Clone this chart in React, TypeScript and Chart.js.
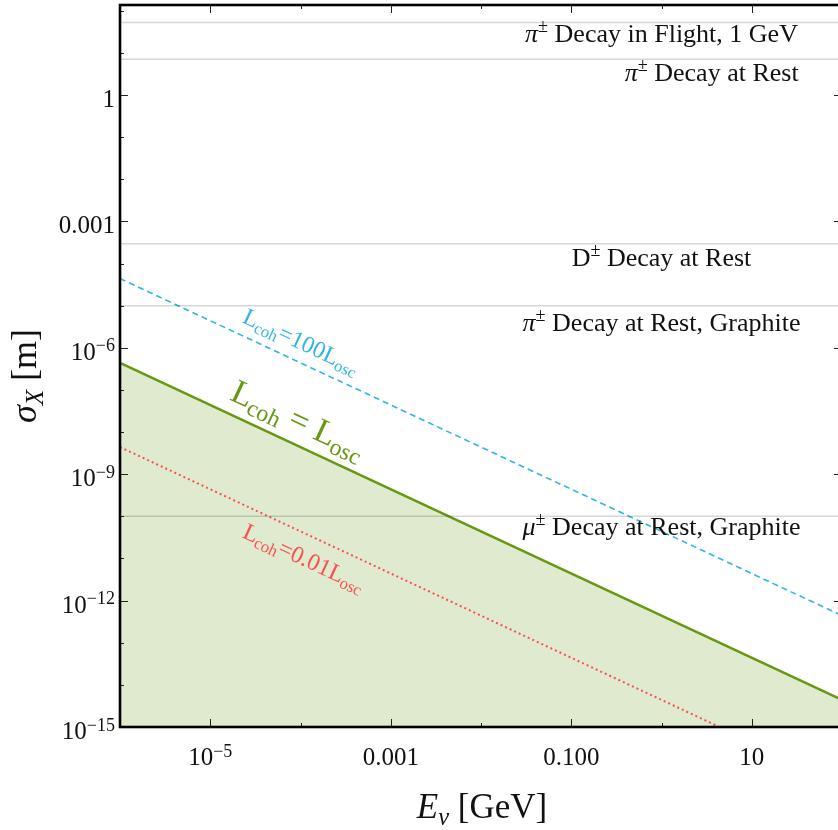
import React, { useEffect, useRef } from 'react';
import { Chart, registerables } from 'chart.js';

Chart.register(...registerables);

const FONT = "'Liberation Serif', 'Times New Roman', serif";

// ---- data ----
const energyEnds = [1e-6, 100]; // GeV, x extent of the lines
const sigmaCohEqualOsc = [4.4e-7, 4.4e-15]; // L_coh = L_osc
const sigmaCoh100Osc = [4.4e-5, 4.4e-13]; // L_coh = 100 L_osc
const sigmaCoh001Osc = [4.4e-9, 4.4e-17]; // L_coh = 0.01 L_osc

const sourceSymbols = ['π', 'π', 'D', 'π', 'μ'];
const sourceSymbolItalic = [true, true, false, true, true];
const sourceTexts = [
  ' Decay in Flight, 1 GeV',
  ' Decay at Rest',
  ' Decay at Rest',
  ' Decay at Rest, Graphite',
  ' Decay at Rest, Graphite',
];
const sourceSigma = [53, 7.1, 2.95e-4, 1.0e-5, 1.0e-10];

const xMajorTicks = [1e-5, 1e-3, 1e-1, 10];
const xMajorLabels = [['10', '−5'], ['0.001'], ['0.100'], ['10']];
const xMinorTicks = [1e-4, 1e-2, 1];
const yMajorTicks = [1, 1e-3, 1e-6, 1e-9, 1e-12, 1e-15];
const yMajorLabels = [['1'], ['0.001'], ['10', '−6'], ['10', '−9'], ['10', '−12'], ['10', '−15']];
const yMinorTicks = [100, 10, 0.1, 0.01, 1e-4, 1e-5, 1e-7, 1e-8, 1e-10, 1e-11, 1e-13, 1e-14];

// ---- layout (label anchors in data coordinates) ----
const sourceLabelE = [1, 3.6, 1, 1, 1];
const sourceLabelSigma = [18.2, 2.15, 8.7e-5, 2.5e-6, 3.56e-11];
const lineLabelE = [1.6e-5, 2.2e-5, 2.2e-5];
const lineLabelSigma = [6.0e-8, 4.1e-6, 3.24e-11];

const GREEN = 'rgb(104,152,18)';
const BLUE = 'rgb(50,180,228)';
const RED = 'rgb(250,80,80)';

type Seg = { t: string; italic?: boolean; scale?: number; dy?: number };

function segFont(s: Seg, size: number) {
  return `${s.italic ? 'italic ' : ''}${size * (s.scale ?? 1)}px ${FONT}`;
}

function measureRich(ctx: CanvasRenderingContext2D, segs: Seg[], size: number) {
  let w = 0;
  for (const s of segs) {
    ctx.font = segFont(s, size);
    w += ctx.measureText(s.t).width;
  }
  return w;
}

function drawRich(
  ctx: CanvasRenderingContext2D,
  segs: Seg[],
  x: number,
  y: number,
  size: number,
  align: 'left' | 'center' | 'right',
  color: string
) {
  const w = measureRich(ctx, segs, size);
  let cx = align === 'left' ? x : align === 'center' ? x - w / 2 : x - w;
  ctx.fillStyle = color;
  ctx.textAlign = 'left';
  ctx.textBaseline = 'alphabetic';
  for (const s of segs) {
    ctx.font = segFont(s, size);
    ctx.fillText(s.t, cx, y + (s.dy ?? 0) * size);
    cx += ctx.measureText(s.t).width;
  }
}

function tickSegs(parts: string[]): Seg[] {
  const segs: Seg[] = [{ t: parts[0] }];
  if (parts[1]) segs.push({ t: parts[1], scale: 0.72, dy: -0.34 });
  return segs;
}

const decorPlugin = {
  id: 'decor',
  afterDraw(chart: any) {
    const { ctx, chartArea, scales } = chart;
    const { left, right, top, bottom } = chartArea;
    const xs = scales.x;
    const ys = scales.y;
    ctx.save();

    // source labels
    sourceTexts.forEach((txt, i) => {
      const px = xs.getPixelForValue(sourceLabelE[i]);
      const py = ys.getPixelForValue(sourceLabelSigma[i]);
      const segs: Seg[] = [
        { t: sourceSymbols[i], italic: sourceSymbolItalic[i] },
        { t: '±', scale: 0.7, dy: -0.38 },
        { t: txt },
      ];
      drawRich(ctx, segs, px, py, 26, 'center', '#111');
    });

    // rotated line labels
    const lines = [
      { vals: sigmaCohEqualOsc, mid: ' = ', size: 34, color: GREEN },
      { vals: sigmaCoh100Osc, mid: '=100', size: 24, color: BLUE },
      { vals: sigmaCoh001Osc, mid: '=0.01', size: 24, color: RED },
    ];
    lines.forEach((l, i) => {
      const x1 = xs.getPixelForValue(energyEnds[0]);
      const y1 = ys.getPixelForValue(l.vals[0]);
      const x2 = xs.getPixelForValue(energyEnds[1]);
      const y2 = ys.getPixelForValue(l.vals[1]);
      const ang = Math.atan2(y2 - y1, x2 - x1);
      const px = xs.getPixelForValue(lineLabelE[i]);
      const py = ys.getPixelForValue(lineLabelSigma[i]);
      ctx.save();
      ctx.translate(px, py);
      ctx.rotate(ang);
      drawRich(
        ctx,
        [
          { t: 'L' },
          { t: 'coh', scale: 0.7, dy: 0.17 },
          { t: l.mid },
          { t: 'L' },
          { t: 'osc', scale: 0.7, dy: 0.17 },
        ],
        0,
        0,
        l.size,
        'left',
        l.color
      );
      ctx.restore();
    });

    // ticks (inward, all four sides)
    ctx.strokeStyle = '#222';
    ctx.lineWidth = 1;
    const tick = (x1: number, y1: number, x2: number, y2: number) => {
      ctx.beginPath();
      ctx.moveTo(x1, y1);
      ctx.lineTo(x2, y2);
      ctx.stroke();
    };
    const xTick = (v: number, len: number) => {
      const p = Math.round(xs.getPixelForValue(v)) + 0.5;
      tick(p, bottom, p, bottom - len);
      tick(p, top, p, top + len);
    };
    const yTick = (v: number, len: number) => {
      const p = Math.round(ys.getPixelForValue(v)) + 0.5;
      tick(left, p, left + len, p);
      tick(right, p, right - len, p);
    };
    xMajorTicks.forEach((v) => xTick(v, 8));
    xMinorTicks.forEach((v) => xTick(v, 4));
    yMajorTicks.forEach((v) => yTick(v, 8));
    yMinorTicks.forEach((v) => yTick(v, 4));

    // spines
    ctx.strokeStyle = '#000';
    ctx.lineWidth = 2.6;
    ctx.strokeRect(left, top, right - left, bottom - top);

    // tick labels
    xMajorTicks.forEach((v, i) => {
      const p = xs.getPixelForValue(v);
      drawRich(ctx, tickSegs(xMajorLabels[i]), p, 765, 25, 'center', '#111');
    });
    yMajorTicks.forEach((v, i) => {
      const p = ys.getPixelForValue(v);
      drawRich(ctx, tickSegs(yMajorLabels[i]), left - 5, p + 12, 25, 'right', '#111');
    });

    // axis titles
    drawRich(
      ctx,
      [
        { t: 'E', italic: true },
        { t: 'ν', italic: true, scale: 0.7, dy: 0.2 },
        { t: ' [GeV]' },
      ],
      (left + right) / 2 + 1,
      818,
      35,
      'center',
      '#111'
    );
    ctx.save();
    ctx.translate(36, 376);
    ctx.rotate(-Math.PI / 2);
    drawRich(
      ctx,
      [
        { t: 'σ', italic: true },
        { t: 'X', italic: true, scale: 0.7, dy: 0.2 },
        { t: ' [m]' },
      ],
      0,
      0,
      36,
      'center',
      '#111'
    );
    ctx.restore();

    ctx.restore();
  },
};

export default function App() {
  const ref = useRef<HTMLCanvasElement | null>(null);

  useEffect(() => {
    if (!ref.current) return;
    const pts = (vals: number[]) => energyEnds.map((e, i) => ({ x: e, y: vals[i] }));
    const datasets: any[] = [
      ...sourceSigma.map((v) => ({
        data: energyEnds.map((e) => ({ x: e, y: v })),
        borderColor: 'rgba(0,0,0,0.16)',
        borderWidth: 1.5,
        pointRadius: 0,
        fill: false,
      })),
      {
        data: pts(sigmaCoh001Osc),
        borderColor: RED,
        borderWidth: 2,
        borderDash: [2, 3],
        pointRadius: 0,
        fill: false,
      },
      {
        data: pts(sigmaCoh100Osc),
        borderColor: BLUE,
        borderWidth: 1.6,
        borderDash: [6, 4],
        pointRadius: 0,
        fill: false,
      },
      {
        data: pts(sigmaCohEqualOsc),
        borderColor: GREEN,
        borderWidth: 2.6,
        pointRadius: 0,
        fill: 'start',
        backgroundColor: 'rgba(107,154,26,0.21)',
      },
    ];
    const chart = new Chart(ref.current, {
      type: 'line',
      data: { datasets },
      options: {
        animation: false,
        responsive: false,
        maintainAspectRatio: false,
        devicePixelRatio: 1,
        layout: { padding: { left: 0, top: 5, right: 8, bottom: 0 } },
        plugins: { legend: { display: false }, tooltip: { enabled: false } },
        elements: { line: { tension: 0 } },
        scales: {
          x: {
            type: 'logarithmic',
            min: 1e-6,
            max: 100,
            ticks: { display: false },
            grid: { display: false },
            border: { display: false },
            afterFit: (s: any) => {
              s.height = 103;
            },
          },
          y: {
            type: 'logarithmic',
            min: 1e-15,
            max: 137,
            ticks: { display: false },
            grid: { display: false },
            border: { display: false },
            afterFit: (s: any) => {
              s.width = 120;
            },
          },
        },
      } as any,
      plugins: [decorPlugin],
    });
    return () => chart.destroy();
  }, []);

  return (
    <div
      style={{
        position: 'absolute',
        left: 0,
        top: 0,
        width: 838,
        height: 830,
        overflow: 'hidden',
        background: '#fff',
      }}
    >
      <canvas ref={ref} width={850} height={830} style={{ display: 'block', width: 850, height: 830 }} />
    </div>
  );
}
